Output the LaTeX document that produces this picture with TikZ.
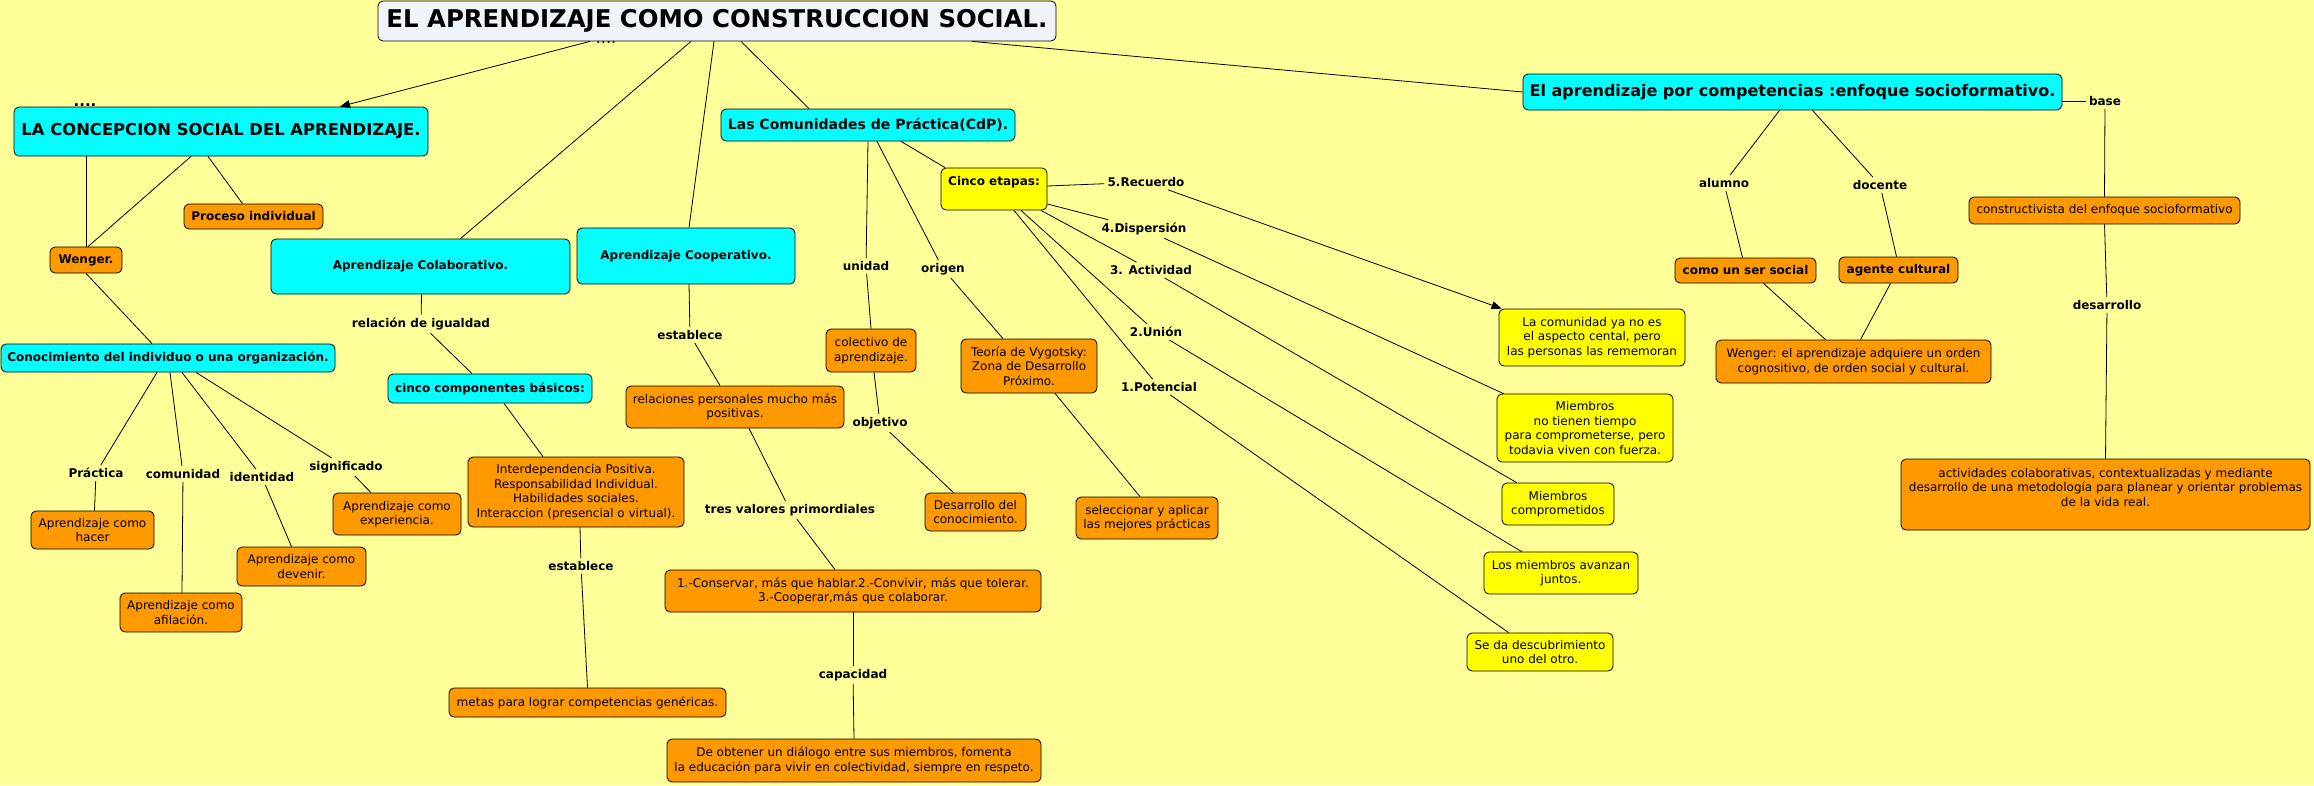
\documentclass[tikz,border=0pt]{standalone}
\usepackage{fontspec}
\setmainfont{DejaVu Sans}
\usetikzlibrary{arrows.meta}
\definecolor{bgyellow}{HTML}{FFFF99}
\definecolor{cyanbox}{HTML}{00FFFF}
\definecolor{orangebox}{HTML}{FF9900}
\definecolor{yellowbox}{HTML}{FFFF00}
\definecolor{titlebox}{HTML}{EEF4FA}
\begin{document}
\begin{tikzpicture}[x=1pt,y=-1pt,
  wh/.style 2 args={minimum width=#1pt, minimum height=#2pt},
  concept/.style={draw=black, line width=0.8pt, rounded corners=5pt, align=center, inner sep=0pt, font=\fontsize{12}{14.6}\selectfont},
  cyanc/.style={concept, fill=cyanbox, font=\fontsize{12}{14.6}\selectfont\bfseries},
  orangec/.style={concept, fill=orangebox},
  orangeb/.style={concept, fill=orangebox, font=\fontsize{12}{14.6}\selectfont\bfseries},
  yellowc/.style={concept, fill=yellowbox},
  lbl/.style={font=\fontsize{12}{14.6}\selectfont\bfseries, inner sep=3pt},
  conn/.style={draw=black, line width=0.8pt},
  arr/.style={conn, -{Triangle[length=10pt,width=8pt]}}
]
\fill[bgyellow] (0,0) rectangle (2314,785);
\useasboundingbox (0,0) rectangle (2314,785);

% ---------- concepts ----------
\node[concept, fill=titlebox, wh={678}{40}, font=\fontsize{24.4}{28}\selectfont\bfseries] (title) at (717,21) {EL APRENDIZAJE COMO CONSTRUCCION SOCIAL.};
\node[cyanc, wh={414}{49}, font=\fontsize{16.4}{19}\selectfont\bfseries] (lacon) at (221,131.5) {LA CONCEPCION SOCIAL DEL APRENDIZAJE.};
\node[cyanc, wh={294}{32}, font=\fontsize{14}{17}\selectfont\bfseries] (cdp) at (868,125) {Las Comunidades de Práctica(CdP).};
\node[yellowc, wh={106}{42}, font=\fontsize{12}{14.6}\selectfont\bfseries, text height=9pt, text depth=16pt] (cinco) at (994,189) {Cinco etapas:};
\node[orangeb, wh={139}{25}] (proc) at (253.5,216.5) {Proceso individual};
\node[orangeb, wh={72}{26}] (weng) at (86,260) {Wenger.};
\node[cyanc, wh={299}{55}] (colab) at (420.5,266.5) {Aprendizaje Colaborativo.};
\node[cyanc, wh={218}{56}] (coop) at (686,256) {Aprendizaje Cooperativo.};
\node[cyanc, wh={334}{28}] (conoc) at (168,358) {Conocimiento del individuo o una organización.};
\node[cyanc, wh={204}{29}] (ccomp) at (490,388.5) {cinco componentes básicos:};
\node[orangec, wh={216}{70}] (inter) at (576,492) {Interdependencia Positiva.\\Responsabilidad Individual.\\Habilidades sociales.\\Interaccion (presencial o virtual).};
\node[orangec, wh={123}{38}] (hacer) at (92.5,530) {Aprendizaje como\\hacer};
\node[orangec, wh={122}{39}] (afil) at (181,612.5) {Aprendizaje como\\afilación.};
\node[orangec, wh={129}{39}] (deven) at (301.5,566.5) {Aprendizaje como\\devenir.};
\node[orangec, wh={128}{42}] (exper) at (397,514) {Aprendizaje como\\experiencia.};
\node[orangec, wh={218}{42}] (relac) at (735,407) {relaciones personales mucho más\\positivas.};
\node[orangec, wh={277}{29}] (metas) at (587.5,702.5) {metas para lograr competencias genéricas.};
\node[orangec, wh={376}{42}] (conserv) at (853,591) {1.-Conservar, más que hablar.2.-Convivir, más que tolerar.\\3.-Cooperar,más que colaborar.};
\node[orangec, wh={374}{43}] (dialog) at (854,760.5) {De obtener un diálogo entre sus miembros, fomenta\\la educación para vivir en colectividad, siempre en respeto.};
\node[orangec, wh={90}{43}] (colec) at (871,350.5) {colectivo de\\aprendizaje.};
\node[orangec, wh={136}{54}] (vygot) at (1029,366) {Teoría de Vygotsky:\\Zona de Desarrollo\\Próximo.};
\node[orangec, wh={101}{38}] (desar) at (975.5,512) {Desarrollo del\\conocimiento.};
\node[orangec, wh={142}{42}] (selec) at (1147,518) {seleccionar y aplicar\\las mejores prácticas};
\node[yellowc, wh={186}{57}] (rememo) at (1592,337.5) {La comunidad ya no es\\el aspecto cental, pero\\las personas las rememoran};
\node[yellowc, wh={176}{68}] (notiempo) at (1585,428) {Miembros\\no tienen tiempo\\para comprometerse, pero\\todavia viven con fuerza.};
\node[yellowc, wh={112}{42}] (comprom) at (1558,504) {Miembros\\comprometidos};
\node[yellowc, wh={154}{42}] (avanzan) at (1561,573) {Los miembros avanzan\\juntos.};
\node[yellowc, wh={146}{38}] (descub) at (1540,652) {Se da descubrimiento\\uno del otro.};
\node[cyanc, wh={539}{36}, font=\fontsize{16}{19}\selectfont\bfseries] (compet) at (1792.5,92) {El aprendizaje por competencias :enfoque socioformativo.};
\node[orangeb, wh={141}{25}] (sersoc) at (1745.5,270.5) {como un ser social};
\node[orangeb, wh={119}{26}] (agente) at (1898.5,270) {agente cultural};
\node[orangec, wh={275}{43}] (wenger2) at (1853.5,361.5) {Wenger: el aprendizaje adquiere un orden\\cognositivo, de orden social y cultural.};
\node[orangec, wh={271}{27}] (construc) at (2104.5,210.5) {constructivista del enfoque socioformativo};
\node[orangec, wh={409}{71}] (activ) at (2105.5,494.5) {actividades colaborativas, contextualizadas y mediante\\desarrollo de una metodología para planear y orientar problemas\\de la vida real.\\\mbox{}};

% small dots
\node[font=\fontsize{16}{16}\selectfont, inner sep=0pt] (dotsa) at (606,43) {....};
\node[font=\fontsize{15}{15}\selectfont\bfseries, inner sep=0pt] (dotsb) at (85,105) {....};

% ---------- linking phrases ----------
\node[lbl] (lrelig) at (421,324) {relación de igualdad};
\node[lbl] (lest1) at (690,335) {establece};
\node[lbl] (lprac) at (96,473) {Práctica};
\node[lbl] (lcomu) at (183,474) {comunidad};
\node[lbl] (liden) at (262,477) {identidad};
\node[lbl] (lsign) at (346,467) {significado};
\node[lbl] (lest2) at (581,566) {establece};
\node[lbl] (ltres) at (790,510) {tres valores primordiales};
\node[lbl] (lcapa) at (853,675) {capacidad};
\node[lbl] (lunid) at (866,266) {unidad};
\node[lbl] (lorig) at (943,269) {origen};
\node[lbl] (lobje) at (880,423) {objetivo};
\node[lbl] (lrec) at (1146,182) {5.Recuerdo};
\node[lbl] (ldis) at (1144,229) {4.Dispersión};
\node[lbl] (lact) at (1151,270) {3. Actividad};
\node[lbl] (luni) at (1156,332) {2.Unión};
\node[lbl] (lpot) at (1159,387) {1.Potencial};
\node[lbl] (lalum) at (1724,183) {alumno};
\node[lbl] (ldoc) at (1880,185) {docente};
\node[lbl] (lbase) at (2105,101) {base};
\node[lbl] (ldes) at (2107,305) {desarrollo};

% ---------- connectors ----------
\draw[arr] ([xshift=-127pt]title.south) -- ([xshift=119pt]lacon.north);
\draw[conn] ([xshift=-26pt]title.south) -- ([xshift=40pt]colab.north);
\draw[conn] ([xshift=-3pt]title.south) -- ([xshift=3pt]coop.north);
\draw[conn] ([xshift=24pt]title.south) -- ([xshift=-59pt]cdp.north);
\draw[conn] ([xshift=255pt]title.south) -- (compet.west);

\draw[conn] ([xshift=-135pt]lacon.south) -- (weng.north);
\draw[conn] ([xshift=-30pt]lacon.south) -- ([xshift=2pt]weng.north);
\draw[conn] ([xshift=-13pt]lacon.south) -- ([xshift=-11pt]proc.north);
\draw[conn] (weng.south) -- ([xshift=-16pt]conoc.north);

\draw[conn] ([xshift=-11pt]conoc.south) -- (lprac);
\draw[conn] (lprac) -- ([xshift=2pt]hacer.north);
\draw[conn] ([xshift=2pt]conoc.south) -- (lcomu);
\draw[conn] (lcomu) -- ([xshift=1pt]afil.north);
\draw[conn] ([xshift=14pt]conoc.south) -- (liden);
\draw[conn] (liden) -- ([xshift=-10pt]deven.north);
\draw[conn] ([xshift=28pt]conoc.south) -- (lsign);
\draw[conn] (lsign) -- ([xshift=-26pt]exper.north);

\draw[conn] ([xshift=1pt]colab.south) -- (lrelig);
\draw[conn] (lrelig) -- ([xshift=-18pt]ccomp.north);
\draw[conn] ([xshift=14pt]ccomp.south) -- ([xshift=-33pt]inter.north);
\draw[conn] ([xshift=4pt]inter.south) -- (lest2);
\draw[conn] (lest2) -- (metas.north);

\draw[conn] ([xshift=3pt]coop.south) -- (lest1);
\draw[conn] (lest1) -- ([xshift=-15pt]relac.north);
\draw[conn] ([xshift=14pt]relac.south) -- (ltres);
\draw[conn] (ltres) -- ([xshift=-18pt]conserv.north);
\draw[conn] (conserv.south) -- (lcapa);
\draw[conn] (lcapa) -- (dialog.north);

\draw[conn] (cdp.south) -- (lunid);
\draw[conn] (lunid) -- (colec.north);
\draw[conn] ([xshift=9pt]cdp.south) -- (lorig);
\draw[conn] (lorig) -- ([xshift=-26pt]vygot.north);
\draw[conn] ([xshift=33pt]cdp.south) -- ([xshift=-49pt]cinco.north);
\draw[conn] ([xshift=3pt]colec.south) -- (lobje);
\draw[conn] (lobje) -- ([xshift=-22pt]desar.north);
\draw[conn] ([xshift=26pt]vygot.south) -- ([xshift=-7pt]selec.north);

\draw[conn] ([yshift=3pt]cinco.east) -- (lrec);
\draw[arr] (lrec) -- ([xshift=3pt]rememo.north west);
\draw[conn] ([yshift=-15pt]cinco.east) -- (ldis);
\draw[conn] (ldis) -- ([xshift=7pt]notiempo.north west);
\draw[conn] ([xshift=47pt]cinco.south) -- (lact);
\draw[conn] (lact) -- ([xshift=15pt]comprom.north west);
\draw[conn] ([xshift=27pt]cinco.south) -- (luni);
\draw[conn] (luni) -- ([xshift=38pt]avanzan.north west);
\draw[conn] ([xshift=20pt]cinco.south) -- (lpot);
\draw[conn] (lpot) -- ([xshift=42pt]descub.north west);

\draw[conn] ([xshift=-13pt]compet.south) -- (lalum);
\draw[conn] (lalum) -- ([xshift=-3pt]sersoc.north);
\draw[conn] ([xshift=20pt]compet.south) -- (ldoc);
\draw[conn] (ldoc) -- ([xshift=-2pt]agente.north);
\draw[conn] ([yshift=-9pt]compet.east) -- (lbase);
\draw[conn] (lbase) -- (construc.north);
\draw[conn] (construc.south) -- (ldes);
\draw[conn] (ldes) -- (activ.north);
\draw[conn] ([xshift=18pt]sersoc.south) -- ([xshift=-28pt]wenger2.north);
\draw[conn] ([xshift=-8pt]agente.south) -- ([xshift=7pt]wenger2.north);
\end{tikzpicture}
\end{document}
